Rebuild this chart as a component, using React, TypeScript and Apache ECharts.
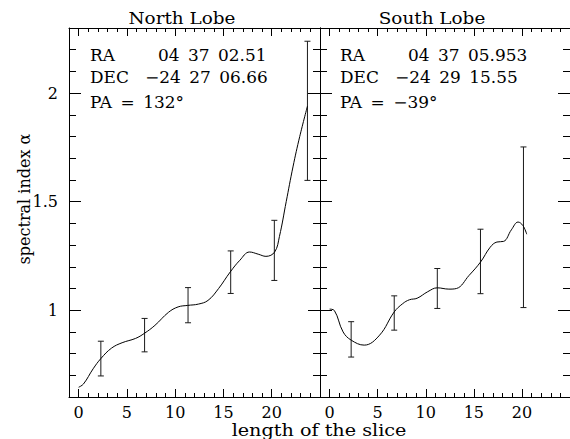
import React, { useEffect, useRef } from "react";
import * as echarts from "echarts";

// ---- data ----
const northX = [0, 0.5, 1.5, 2.3, 3.4, 4.5, 5.9, 6.8, 7.9, 9.3, 10.3, 11.3, 12.4, 13.4, 14.5, 15.7, 16.7, 17.7, 18.6, 19.4, 20.3, 20.8, 21.5, 22.2, 22.9, 23.7];
const northY = [0.645, 0.66, 0.73, 0.777, 0.825, 0.85, 0.87, 0.893, 0.93, 0.99, 1.015, 1.022, 1.028, 1.045, 1.1, 1.176, 1.23, 1.268, 1.258, 1.248, 1.268, 1.34, 1.5, 1.66, 1.8, 1.94];

const southX = [0, 0.5, 1.4, 2.24, 3.6, 5.2, 6.72, 7.6, 8.3, 9.1, 10.2, 11.2, 12.4, 13.2, 14.5, 15.7, 16.7, 17.4, 18.1, 18.9, 19.6, 20.1, 20.5];
const southY = [1.005, 0.998, 0.9, 0.862, 0.839, 0.885, 0.992, 1.03, 1.048, 1.055, 1.085, 1.103, 1.097, 1.1, 1.16, 1.222, 1.29, 1.314, 1.317, 1.37, 1.406, 1.39, 1.35];

const northErrX = [2.3, 6.83, 11.33, 15.75, 20.27, 23.7];
const northErrLow = [0.697, 0.808, 0.942, 1.077, 1.137, 1.598];
const northErrHigh = [0.857, 0.962, 1.104, 1.273, 1.414, 2.239];

const southErrX = [2.24, 6.72, 11.2, 15.69, 20.16];
const southErrLow = [0.784, 0.908, 1.008, 1.076, 1.012];
const southErrHigh = [0.947, 1.066, 1.192, 1.373, 1.752];

const xMajorTicks = [0, 5, 10, 15, 20, 25];
const xTickLabels = [0, 5, 10, 15, 20];
const xMinorTicks = [1, 2, 3, 4, 6, 7, 8, 9, 11, 12, 13, 14, 16, 17, 18, 19, 21, 22, 23, 24];
const yMajorTicks = [1, 1.5, 2];
const yTickLabels = [1, 1.5, 2];
const yMinorTicks = [0.7, 0.8, 0.9, 1.1, 1.2, 1.3, 1.4, 1.6, 1.7, 1.8, 1.9, 2.1, 2.2];

const panelTitles = ["North Lobe", "South Lobe"];
const raLabels = ["04\u200237\u200202.51", "04\u200237\u200205.953"];
const decLabels = ["\u221224\u200227\u200206.66", "\u221224\u200229\u200215.55"];
const paLabels = ["PA\u2002=\u2002132\u00b0", "PA\u2002=\u2002\u221239\u00b0"];
const xName = "length of the slice";
const yName = "spectral index \u03b1";

const FONT = '"DejaVu Serif", serif';
const FS = 16;
const BLACK = "#000";

function xAxes(g: number) {
  const base: any = {
    type: "value",
    gridIndex: g,
    min: -1,
    max: 25,
    splitLine: { show: false },
  };
  const line = { show: true, onZero: false, lineStyle: { color: BLACK, width: 1 } };
  const noLine = { show: false, onZero: false };
  return [
    {
      ...base,
      position: "bottom",
      axisLine: line,
      axisTick: { show: true, inside: true, length: 8, customValues: xMajorTicks, lineStyle: { color: BLACK } },
      axisLabel: { show: true, customValues: xTickLabels, margin: 9, color: BLACK, fontFamily: FONT, fontSize: FS, lineHeight: 13 },
    },
    {
      ...base,
      position: "bottom",
      axisLine: noLine,
      axisTick: { show: true, inside: true, length: 4, customValues: xMinorTicks, lineStyle: { color: BLACK } },
      axisLabel: { show: false },
    },
    {
      ...base,
      position: "top",
      axisLine: line,
      axisTick: { show: true, inside: true, length: 8, customValues: xMajorTicks, lineStyle: { color: BLACK } },
      axisLabel: { show: false },
    },
    {
      ...base,
      position: "top",
      axisLine: noLine,
      axisTick: { show: true, inside: true, length: 4, customValues: xMinorTicks, lineStyle: { color: BLACK } },
      axisLabel: { show: false },
    },
  ];
}

function yAxes(g: number) {
  const base: any = {
    type: "value",
    gridIndex: g,
    min: 0.6,
    max: 2.3,
    splitLine: { show: false },
  };
  const line = { show: true, onZero: false, lineStyle: { color: BLACK, width: 1 } };
  const noLine = { show: false, onZero: false };
  return [
    {
      ...base,
      position: "left",
      axisLine: line,
      axisTick: { show: true, inside: true, length: 12, customValues: yMajorTicks, lineStyle: { color: BLACK } },
      axisLabel: g === 0
        ? { show: true, customValues: yTickLabels, margin: 11, color: BLACK, fontFamily: FONT, fontSize: FS }
        : { show: false },
    },
    {
      ...base,
      position: "left",
      axisLine: noLine,
      axisTick: { show: true, inside: true, length: 7, customValues: yMinorTicks, lineStyle: { color: BLACK } },
      axisLabel: { show: false },
    },
    {
      ...base,
      position: "right",
      axisLine: line,
      axisTick: { show: true, inside: true, length: 12, customValues: yMajorTicks, lineStyle: { color: BLACK } },
      axisLabel: { show: false },
    },
    {
      ...base,
      position: "right",
      axisLine: noLine,
      axisTick: { show: true, inside: true, length: 7, customValues: yMinorTicks, lineStyle: { color: BLACK } },
      axisLabel: { show: false },
    },
  ];
}

function errorRender(params: any, api: any) {
  const x = api.value(0);
  const lo = api.value(1);
  const hi = api.value(2);
  const a = api.coord([x, lo]);
  const b = api.coord([x, hi]);
  const w = 3;
  const style = { stroke: "#1a1a1a", lineWidth: 1 };
  return {
    type: "group",
    children: [
      { type: "line", shape: { x1: a[0], y1: a[1], x2: b[0], y2: b[1] }, style },
      { type: "line", shape: { x1: a[0] - w, y1: a[1], x2: a[0] + w, y2: a[1] }, style },
      { type: "line", shape: { x1: b[0] - w, y1: b[1], x2: b[0] + w, y2: b[1] }, style },
    ],
  };
}

function txt(text: string, x: number, y: number, align: string, extra: any = {}) {
  return {
    type: "text",
    x,
    y,
    ...extra,
    style: {
      text,
      fill: BLACK,
      fontFamily: FONT,
      fontSize: FS,
      lineHeight: 13,
      align,
      verticalAlign: "middle",
    },
  };
}

export default function App() {
  const ref = useRef<HTMLDivElement>(null);
  useEffect(() => {
    if (!ref.current) return;
    const chart = echarts.init(ref.current, null, { renderer: "svg" });
    const wide = { scaleX: 1.15 };
    const num = { scaleX: 1.06 };
    const option: any = {
      animation: false,
      backgroundColor: "#fff",
      grid: [
        { left: 69, top: 28, width: 251, height: 369 },
        { left: 320, top: 28, width: 251, height: 369 },
      ],
      xAxis: [...xAxes(0), ...xAxes(1)],
      yAxis: [...yAxes(0), ...yAxes(1)],
      series: [
        {
          type: "line",
          xAxisIndex: 0,
          yAxisIndex: 0,
          data: northX.map((x, i) => [x, northY[i]]),
          smooth: 0.4,
          showSymbol: false,
          lineStyle: { color: BLACK, width: 1 },
        },
        {
          type: "line",
          xAxisIndex: 4,
          yAxisIndex: 4,
          data: southX.map((x, i) => [x, southY[i]]),
          smooth: 0.4,
          showSymbol: false,
          lineStyle: { color: BLACK, width: 1 },
        },
        {
          type: "custom",
          xAxisIndex: 0,
          yAxisIndex: 0,
          renderItem: errorRender,
          encode: { x: 0, y: [1, 2] },
          data: northErrX.map((x, i) => [x, northErrLow[i], northErrHigh[i]]),
        },
        {
          type: "custom",
          xAxisIndex: 4,
          yAxisIndex: 4,
          renderItem: errorRender,
          encode: { x: 0, y: [1, 2] },
          data: southErrX.map((x, i) => [x, southErrLow[i], southErrHigh[i]]),
        },
      ],
      graphic: [
        txt(panelTitles[0], 182, 18, "center", wide),
        txt(panelTitles[1], 432, 18, "center", wide),
        txt("RA", 90, 55.5, "left", num),
        txt(raLabels[0], 158, 55.5, "left", num),
        txt("DEC", 90, 77.5, "left", num),
        txt(decLabels[0], 145, 77.5, "left", num),
        txt(paLabels[0], 90, 103, "left", num),
        txt("RA", 340, 55.5, "left", num),
        txt(raLabels[1], 408, 55.5, "left", num),
        txt("DEC", 340, 77.5, "left", num),
        txt(decLabels[1], 395, 77.5, "left", num),
        txt(paLabels[1], 340, 103, "left", num),
        txt(xName, 319, 431, "center", { scaleX: 1.2 }),
        txt(yName, 24.5, 199, "center", { rotation: Math.PI / 2 }),
      ],
    };
    chart.setOption(option);
    return () => chart.dispose();
  }, []);
  return (
    <div
      ref={ref}
      style={{ position: "absolute", left: 0, top: 0, width: 570, height: 439, background: "#fff" }}
    />
  );
}
